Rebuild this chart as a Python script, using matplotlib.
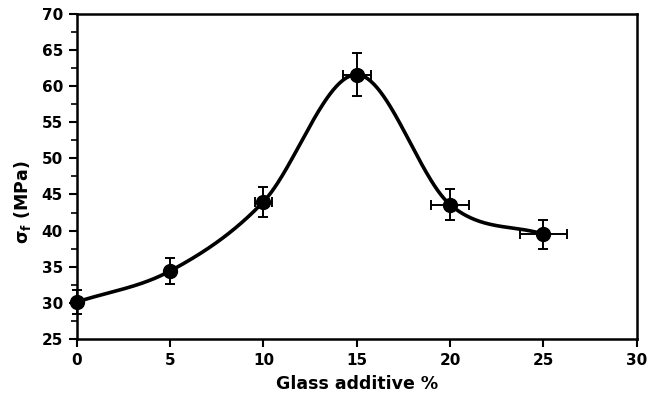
import matplotlib
matplotlib.use("Agg")
import matplotlib.pyplot as plt
import numpy as np
from matplotlib.ticker import MultipleLocator

plt.rcParams['font.family'] = ['DejaVu Sans']
plt.rcParams['mathtext.fontset'] = 'custom'
plt.rcParams['mathtext.bf'] = 'DejaVu Sans:bold'
plt.rcParams['mathtext.rm'] = 'DejaVu Sans:bold'

# data
glass = [0, 5, 10, 15, 20, 25]
strength = [30.1, 34.4, 44.0, 61.6, 43.6, 39.5]
strength_err = [1.6, 1.8, 2.1, 3.0, 2.2, 2.0]
glass_err = [0.0, 0.0, 0.45, 0.75, 1.0, 1.26]


def smooth_curve(x, y, n=60):
    # Catmull-Rom style smoothing, like a spreadsheet "smoothed line"
    x = np.asarray(x, float)
    y = np.asarray(y, float)
    px = np.concatenate([[2 * x[0] - x[1]], x, [2 * x[-1] - x[-2]]])
    py = np.concatenate([[2 * y[0] - y[1]], y, [2 * y[-1] - y[-2]]])
    xs, ys = [], []
    t = np.linspace(0, 1, n)
    for i in range(1, len(px) - 2):
        for arr, out in ((px, xs), (py, ys)):
            p0, p1, p2, p3 = arr[i - 1], arr[i], arr[i + 1], arr[i + 2]
            out.append(0.5 * ((2 * p1) + (-p0 + p2) * t
                              + (2 * p0 - 5 * p1 + 4 * p2 - p3) * t ** 2
                              + (-p0 + 3 * p1 - 3 * p2 + p3) * t ** 3))
    return np.concatenate(xs), np.concatenate(ys)


fig = plt.figure(figsize=(6.51, 4.01), dpi=100)
ax = fig.add_axes([0.118, 0.155, 0.860, 0.810])

sx, sy = smooth_curve(glass, strength)
ax.plot(sx, sy, color='black', lw=2.6, zorder=2)
ax.errorbar(glass, strength, yerr=strength_err, xerr=glass_err, fmt='o',
            color='black', ms=10, elinewidth=1.4, capsize=3.5, capthick=1.4,
            zorder=3, clip_on=False)

ax.set_xlim(0, 30)
ax.set_ylim(25, 70)
ax.xaxis.set_major_locator(MultipleLocator(5))
ax.yaxis.set_major_locator(MultipleLocator(5))
ax.yaxis.set_minor_locator(MultipleLocator(2.5))

for s in ax.spines.values():
    s.set_linewidth(1.8)

ax.tick_params(axis='both', which='major', direction='out', length=6,
               width=1.5, labelsize=11, pad=4)
ax.tick_params(axis='y', which='minor', direction='out', length=4, width=1.2)
for lab in ax.get_xticklabels() + ax.get_yticklabels():
    lab.set_fontweight('bold')

ax.set_xlabel('Glass additive %', fontsize=12.5, fontweight='bold', labelpad=5)
ax.set_ylabel(r'σ$_\mathbf{f}$ (MPa)', fontsize=12.5, fontweight='bold')
ax.yaxis.set_label_coords(-0.079, 0.42)

fig.savefig('out.png', dpi=100)
